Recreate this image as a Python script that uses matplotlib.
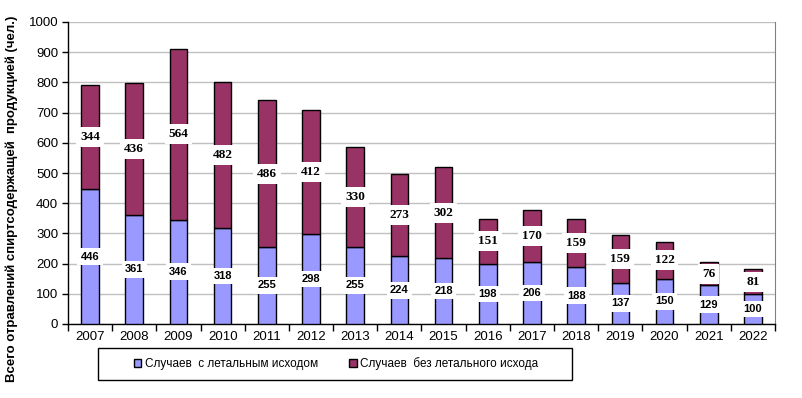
"""Poisoning cases by alcohol-containing products, 2007-2022 (stacked bars)."""

import matplotlib
matplotlib.use("Agg")
import matplotlib.pyplot as plt
from matplotlib.patches import Rectangle
import numpy as np

years = ["2007", "2008", "2009", "2010", "2011", "2012", "2013", "2014",
         "2015", "2016", "2017", "2018", "2019", "2020", "2021", "2022"]
fatal = [446, 361, 346, 318, 255, 298, 255, 224, 218, 198, 206, 188, 137, 150, 129, 100]
nonfatal = [344, 436, 564, 482, 486, 412, 330, 273, 302, 151, 170, 159, 159, 122, 76, 81]

COLORS = {"fatal": "#9999FF", "nonfatal": "#993366", "grid": "#C0C0C0"}
SANS = ["Liberation Sans", "Arial", "DejaVu Sans"]
SERIF = ["Liberation Serif", "Times New Roman", "DejaVu Serif"]

plt.rcParams.update({
    "font.family": SANS,
    "font.size": 9,
})

fig = plt.figure(figsize=(8.03, 3.98), dpi=100)
ax = fig.add_axes([68 / 803, 74 / 398, (775 - 68) / 803, (324 - 22) / 398])

x = np.arange(len(years))
width = 0.4

ax.bar(x, fatal, width, color=COLORS["fatal"], edgecolor="black", linewidth=1,
       label="Случаев  с летальным исходом", zorder=3)
ax.bar(x, nonfatal, width, bottom=fatal, color=COLORS["nonfatal"], edgecolor="black",
       linewidth=1, label="Случаев  без летального исхода", zorder=3)

box = dict(boxstyle="square,pad=0.3", facecolor="white", edgecolor="none")
for i in range(len(years)):
    ax.text(x[i], fatal[i] / 2, str(fatal[i]), ha="center", va="center",
            fontsize=8, fontweight="bold", family=SANS, bbox=box, zorder=4)
    ax.text(x[i], fatal[i] + nonfatal[i] / 2, str(nonfatal[i]), ha="center", va="center",
            fontsize=9.5, fontweight="bold", family=SERIF, bbox=box, zorder=4)

ax.set_xlim(-0.5, len(years) - 0.5)
ax.set_ylim(0, 1000)
ax.set_yticks(np.arange(0, 1001, 100))
ax.set_xticks(x)
ax.set_xticklabels(years, fontsize=9.5)
for lbl in ax.get_yticklabels():
    lbl.set_fontsize(9.5)
ax.set_xticks(np.arange(-0.5, len(years)), minor=True)
ax.tick_params(axis="x", which="major", length=0, pad=5)
ax.tick_params(axis="x", which="minor", length=5, width=1, direction="out")
ax.tick_params(axis="y", length=4, width=1, direction="out", pad=3)

ax.yaxis.grid(True, color=COLORS["grid"], linewidth=1, zorder=0)
ax.set_axisbelow(True)
ax.spines["right"].set_color("#808080")
ax.spines["top"].set_visible(False)
ax.spines["left"].set_linewidth(1)
ax.spines["bottom"].set_linewidth(1)

ax.set_ylabel("Всего отравлений спиртсодержащей  продукцией (чел.)",
              fontweight="bold", fontsize=9.5)
ax.yaxis.set_label_coords(-0.071, 0.415)

# legend frame drawn separately, legend centred inside it
fig.patches.append(Rectangle((98 / 803, 18 / 398), (572 - 98) / 803, 32 / 398,
                             transform=fig.transFigure, facecolor="white",
                             edgecolor="black", linewidth=1))
fig.legend(loc="center", bbox_to_anchor=(336 / 803, 34 / 398), ncol=2, frameon=False,
           handlelength=0.65, handleheight=0.65, handletextpad=0.3, columnspacing=2.6,
           prop={"size": 8.5})

fig.savefig("out.png", dpi=100)
